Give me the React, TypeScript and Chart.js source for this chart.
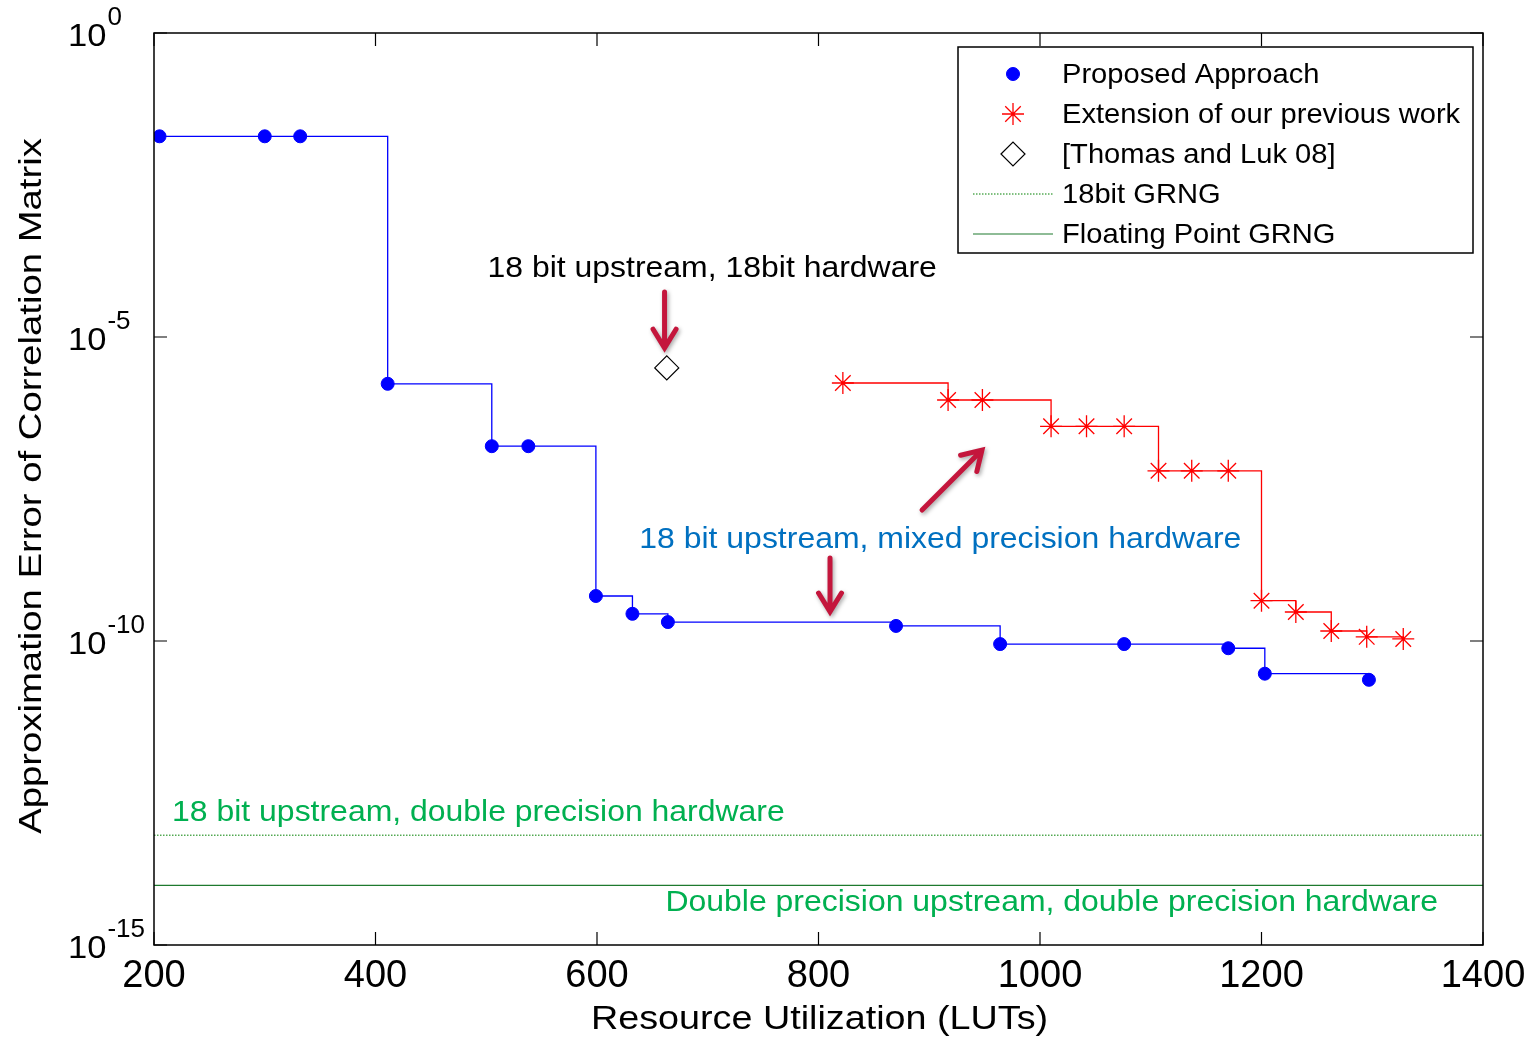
import React, { useEffect, useRef } from "react";
import { Chart, registerables } from "chart.js";

Chart.register(...registerables);

// ---- data ----
const proposedX = [205, 300, 332, 411, 505, 538, 599, 632, 664, 870, 964, 1076, 1170, 1203, 1297];
const proposedY = [2.0e-2, 2.0e-2, 2.0e-2, 1.7e-6, 1.6e-7, 1.6e-7, 5.5e-10, 2.8e-10, 2.05e-10, 1.77e-10, 8.9e-11, 8.9e-11, 7.6e-11, 2.9e-11, 2.3e-11];

const extensionX = [822, 917, 948, 1010, 1042, 1076, 1107, 1137, 1170, 1200, 1231, 1263, 1295, 1328];
const extensionY = [1.75e-6, 9.2e-7, 9.2e-7, 3.4e-7, 3.4e-7, 3.4e-7, 6.3e-8, 6.3e-8, 6.3e-8, 4.6e-10, 3.0e-10, 1.46e-10, 1.17e-10, 1.08e-10];

const thomasX = [663];
const thomasY = [3.1e-6];

const grngRangeX = [200, 1400];
const grng18bitLevel = 6.4e-14;
const grngFloatLevel = 9.6e-15;

const xTicks = [200, 400, 600, 800, 1000, 1200, 1400];
const yTickExponents = [0, -5, -10, -15];

const seriesLabels = [
  "Proposed Approach",
  "Extension of our previous work",
  "[Thomas and Luk 08]",
  "18bit GRNG",
  "Floating Point GRNG",
];

const xTitle = "Resource Utilization (LUTs)";
const yTitle = "Approximation Error of Correlation Matrix";

const annotationTexts = [
  "18 bit upstream, 18bit hardware",
  "18 bit upstream, mixed precision hardware",
  "18 bit upstream, double precision hardware",
  "Double precision upstream, double precision hardware",
];

const FONT = "'Liberation Sans', Arial, sans-serif";

function zip(xs: number[], ys: number[]) {
  return xs.map((x, i) => ({ x, y: ys[i] }));
}

function stretchText(ctx: CanvasRenderingContext2D, text: string, x: number, y: number, align: CanvasTextAlign, sx: number, rot = 0) {
  ctx.save();
  ctx.translate(x, y);
  if (rot) ctx.rotate(rot);
  ctx.scale(sx, 1);
  ctx.textAlign = align;
  ctx.fillText(text, 0, 0);
  ctx.restore();
}

function drawMarker(ctx: CanvasRenderingContext2D, style: string, r: number, x: number, y: number) {
  ctx.beginPath();
  if (style === "circle") {
    ctx.arc(x, y, r, 0, Math.PI * 2);
    ctx.fill();
    ctx.stroke();
  } else if (style === "star") {
    const d = r * Math.SQRT1_2;
    ctx.moveTo(x - r, y); ctx.lineTo(x + r, y);
    ctx.moveTo(x, y - r); ctx.lineTo(x, y + r);
    ctx.moveTo(x - d, y - d); ctx.lineTo(x + d, y + d);
    ctx.moveTo(x - d, y + d); ctx.lineTo(x + d, y - d);
    ctx.stroke();
  } else if (style === "rectRot") {
    ctx.moveTo(x - r, y); ctx.lineTo(x, y - r); ctx.lineTo(x + r, y); ctx.lineTo(x, y + r);
    ctx.closePath();
    ctx.fill();
    ctx.stroke();
  }
}

function drawArrow(ctx: CanvasRenderingContext2D, x1: number, y1: number, x2: number, y2: number) {
  const ang = Math.atan2(y2 - y1, x2 - x1);
  const headLen = 22;
  const spread = 0.55;
  ctx.save();
  ctx.strokeStyle = "#C4163C";
  ctx.lineWidth = 5;
  ctx.lineCap = "round";
  ctx.lineJoin = "miter";
  ctx.shadowColor = "rgba(0,0,0,0.35)";
  ctx.shadowBlur = 4;
  ctx.shadowOffsetX = 1.5;
  ctx.shadowOffsetY = 2;
  ctx.beginPath();
  ctx.moveTo(x1, y1);
  ctx.lineTo(x2 - Math.cos(ang) * 2, y2 - Math.sin(ang) * 2);
  ctx.moveTo(x2 - headLen * Math.cos(ang - spread), y2 - headLen * Math.sin(ang - spread));
  ctx.lineTo(x2, y2);
  ctx.lineTo(x2 - headLen * Math.cos(ang + spread), y2 - headLen * Math.sin(ang + spread));
  ctx.stroke();
  ctx.restore();
}

const decorPlugin = {
  id: "decor",
  afterDatasetsDraw(chart: any) {
    const { ctx, chartArea: ca, scales } = chart;
    const xs = scales.x;
    const ys = scales.y;
    const px = (v: number) => xs.getPixelForValue(v);
    const py = (v: number) => ys.getPixelForValue(v);

    ctx.save();
    // frame
    ctx.strokeStyle = "#000";
    ctx.lineWidth = 1.5;
    ctx.strokeRect(ca.left, ca.top, ca.right - ca.left, ca.bottom - ca.top);
    // ticks inward
    const tl = 13;
    ctx.lineWidth = 1.2;
    ctx.beginPath();
    xTicks.forEach((t) => {
      const x = px(t);
      ctx.moveTo(x, ca.bottom);
      ctx.lineTo(x, ca.bottom - tl);
      ctx.moveTo(x, ca.top);
      ctx.lineTo(x, ca.top + tl);
    });
    yTickExponents.forEach((e) => {
      const y = py(Math.pow(10, e));
      ctx.moveTo(ca.left, y);
      ctx.lineTo(ca.left + tl, y);
      ctx.moveTo(ca.right, y);
      ctx.lineTo(ca.right - tl, y);
    });
    ctx.stroke();

    // y tick labels with superscripts
    ctx.fillStyle = "#000";
    ctx.textBaseline = "alphabetic";
    yTickExponents.forEach((e) => {
      const y = py(Math.pow(10, e));
      ctx.font = `32px ${FONT}`;
      const baseX = 68;
      const sx = 1.08;
      stretchText(ctx, "10", baseX, y + 13, "left", sx);
      const w = ctx.measureText("10").width * sx;
      ctx.font = `25px ${FONT}`;
      stretchText(ctx, String(e), baseX + w + 1, y - 8, "left", 1.04);
    });

    // axis titles
    ctx.textBaseline = "middle";
    ctx.font = `34px ${FONT}`;
    stretchText(ctx, xTitle, (ca.left + ca.right) / 2 + 1, 1020, "center", 1.11);
    ctx.font = `31px ${FONT}`;
    stretchText(ctx, yTitle, 32, (ca.top + ca.bottom) / 2 - 3, "center", 1.235, -Math.PI / 2);

    // annotations
    ctx.font = `30px ${FONT}`;
    ctx.textBaseline = "middle";
    const asx = 1.065;
    ctx.fillStyle = "#000";
    stretchText(ctx, annotationTexts[0], px(704), py(Math.pow(10, -3.87)), "center", asx);
    ctx.fillStyle = "#0070C0";
    stretchText(ctx, annotationTexts[1], px(910), py(Math.pow(10, -8.34)), "center", asx);
    ctx.fillStyle = "#00B050";
    stretchText(ctx, annotationTexts[2], px(216.3), py(Math.pow(10, -12.83)), "left", asx);
    stretchText(ctx, annotationTexts[3], px(1359.4), py(Math.pow(10, -14.31)), "right", asx);

    // arrows
    drawArrow(ctx, px(661), py(Math.pow(10, -4.26)), px(661), py(Math.pow(10, -5.18)));
    drawArrow(ctx, px(810.4), py(Math.pow(10, -8.635)), px(810.4), py(Math.pow(10, -9.52)));
    drawArrow(ctx, px(893.5), py(Math.pow(10, -7.845)), px(947.6), py(Math.pow(10, -6.86)));

    // legend
    const lx = ca.right - 525;
    const ly = ca.top + 14;
    const lw = 515;
    const lh = 206;
    ctx.fillStyle = "#fff";
    ctx.fillRect(lx, ly, lw, lh);
    ctx.strokeStyle = "#000";
    ctx.lineWidth = 1.5;
    ctx.strokeRect(lx, ly, lw, lh);
    const rowH = 40;
    chart.data.datasets.forEach((ds: any, i: number) => {
      const cy = ly + 27 + i * rowH;
      const mx = lx + 55;
      ctx.save();
      if (ds.pointRadius > 0) {
        ctx.lineWidth = ds.pointBorderWidth ?? 1;
        ctx.strokeStyle = ds.pointBorderColor;
        ctx.fillStyle = ds.pointBackgroundColor;
        drawMarker(ctx, ds.pointStyle, ds.pointRadius, mx, cy);
      } else {
        ctx.strokeStyle = ds.borderColor;
        ctx.lineWidth = ds.borderWidth;
        ctx.setLineDash(ds.borderDash || []);
        ctx.beginPath();
        ctx.moveTo(lx + 15, cy);
        ctx.lineTo(lx + 95, cy);
        ctx.stroke();
      }
      ctx.restore();
      ctx.fillStyle = "#000";
      ctx.font = `28px ${FONT}`;
      ctx.textBaseline = "middle";
      stretchText(ctx, ds.label, lx + 104, cy + 1, "left", 1.04);
    });
    ctx.restore();
  },
};

export default function App() {
  const canvasRef = useRef<HTMLCanvasElement | null>(null);

  useEffect(() => {
    document.body.style.margin = "0";
    const canvas = canvasRef.current;
    if (!canvas) return;
    const chart = new Chart(canvas, {
      type: "line",
      data: {
        datasets: [
          {
            label: seriesLabels[0],
            data: zip(proposedX, proposedY),
            borderColor: "#0000FF",
            borderWidth: 1.3,
            stepped: "before",
            pointStyle: "circle",
            pointRadius: 6.5,
            pointBackgroundColor: "#0000FF",
            pointBorderColor: "#0000FF",
            pointBorderWidth: 1,
            fill: false,
          },
          {
            label: seriesLabels[1],
            data: zip(extensionX, extensionY),
            borderColor: "#FF0000",
            borderWidth: 1.3,
            stepped: "before",
            pointStyle: "star",
            pointRadius: 11,
            pointBackgroundColor: "#FF0000",
            pointBorderColor: "#FF0000",
            pointBorderWidth: 1.3,
            fill: false,
          },
          {
            label: seriesLabels[2],
            data: zip(thomasX, thomasY),
            showLine: false,
            pointStyle: "rectRot",
            pointRadius: 12,
            pointBackgroundColor: "#FFFFFF",
            pointBorderColor: "#000000",
            pointBorderWidth: 1.2,
            borderColor: "#000000",
          },
          {
            label: seriesLabels[3],
            data: zip(grngRangeX, grngRangeX.map(() => grng18bitLevel)),
            borderColor: "#008000",
            borderWidth: 1,
            borderDash: [1.5, 1.5],
            pointRadius: 0,
            fill: false,
          },
          {
            label: seriesLabels[4],
            data: zip(grngRangeX, grngRangeX.map(() => grngFloatLevel)),
            borderColor: "#1E7A2E",
            borderWidth: 1.2,
            pointRadius: 0,
            fill: false,
          },
        ],
      },
      options: {
        animation: false,
        responsive: false,
        events: [],
        layout: { padding: { top: 33, right: 53, left: 0, bottom: 0 } },
        plugins: { legend: { display: false }, tooltip: { enabled: false } },
        scales: {
          x: {
            type: "linear",
            min: 200,
            max: 1400,
            afterBuildTicks: (s: any) => {
              s.ticks = xTicks.map((v) => ({ value: v }));
            },
            afterFit: (s: any) => {
              s.height = 95;
            },
            grid: { display: false, drawTicks: false },
            border: { display: false },
            ticks: {
              color: "#000",
              font: { family: FONT, size: 38 },
              padding: 9,
              maxRotation: 0,
              autoSkip: false,
              callback: (v: any) => String(v),
            },
            title: { display: false },
          },
          y: {
            type: "logarithmic",
            min: 1e-15,
            max: 1,
            afterFit: (s: any) => {
              s.width = 154;
            },
            grid: { display: false, drawTicks: false },
            border: { display: false },
            ticks: { display: false },
            title: { display: false },
          },
        },
      },
      plugins: [decorPlugin],
    });
    return () => chart.destroy();
  }, []);

  return (
    <div style={{ position: "absolute", left: 0, top: 0, width: 1536, height: 1040, background: "#fff" }}>
      <canvas ref={canvasRef} width={1536} height={1040} style={{ width: 1536, height: 1040, display: "block" }} />
    </div>
  );
}
